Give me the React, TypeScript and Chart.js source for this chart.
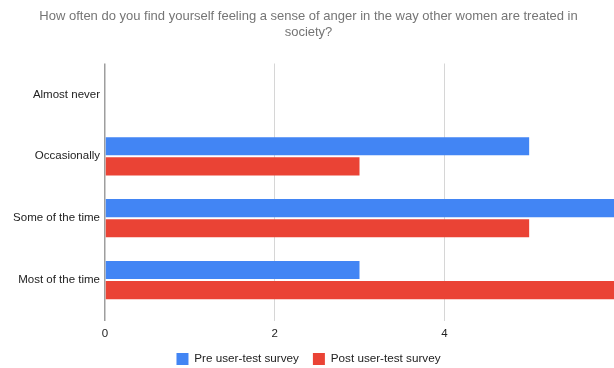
import React, { useEffect, useRef } from "react";
import { Chart, registerables } from "chart.js";

Chart.register(...registerables);

const titleLines = [
  "How often do you find yourself feeling a sense of anger in the way other women are treated in",
  "society?",
];
const categories = ["Almost never", "Occasionally", "Some of the time", "Most of the time"];
const preSurvey = [0, 5, 6, 3];
const postSurvey = [0, 3, 5, 6];
const xTicks = [0, 2, 4, 6];

const FONT = "Arial, 'Liberation Sans', sans-serif";

export default function App() {
  const canvasRef = useRef<HTMLCanvasElement | null>(null);

  useEffect(() => {
    document.body.style.margin = "0";
    const canvas = canvasRef.current;
    if (!canvas) return;
    const chart = new Chart(canvas, {
      type: "bar",
      data: {
        labels: categories,
        datasets: [
          {
            label: "Pre user-test survey",
            data: preSurvey,
            backgroundColor: "#4285F4",
            categoryPercentage: 0.65,
            barPercentage: 0.9,
          },
          {
            label: "Post user-test survey",
            data: postSurvey,
            backgroundColor: "#EA4335",
            categoryPercentage: 0.65,
            barPercentage: 0.9,
          },
        ],
      },
      options: {
        indexAxis: "y",
        animation: false,
        responsive: false,
        maintainAspectRatio: false,
        layout: { padding: { left: 0, right: -3, top: 0, bottom: -7 } },
        plugins: {
          title: {
            display: true,
            text: titleLines,
            color: "#757575",
            font: { family: FONT, size: 13, weight: "normal", lineHeight: 1.25 },
            padding: { top: 8, bottom: 23 },
          },
          legend: {
            position: "bottom",
            labels: {
              boxWidth: 12,
              boxHeight: 12,
              padding: 14,
              color: "#222222",
              font: { family: FONT, size: 11.7 },
            },
          },
          tooltip: { enabled: false },
        },
        scales: {
          x: {
            min: 0,
            max: 6,
            afterBuildTicks: (axis: any) => {
              axis.ticks = xTicks.map((v) => ({ value: v }));
            },
            afterFit: (axis: any) => {
              axis.height = 28;
              axis.paddingRight = -3;
            },
            ticks: {
              color: "#222222",
              font: { family: FONT, size: 11.5 },
              padding: 6,
              callback: (v: any) => (Number(v) === 6 ? "" : String(v)),
            },
            grid: {
              drawTicks: true,
              tickLength: 10,
              color: (ctx: any) =>
                ctx.tick && ctx.tick.value === 0
                  ? "#9e9e9e"
                  : ctx.tick && ctx.tick.value === 6
                  ? "rgba(0,0,0,0)"
                  : "#d6d6d6",
              lineWidth: (ctx: any) => (ctx.tick && ctx.tick.value === 0 ? 1.5 : 1),
            },
            border: { display: false },
          },
          y: {
            afterFit: (axis: any) => {
              axis.width = 105;
            },
            ticks: {
              color: "#222222",
              font: { family: FONT, size: 11.5 },
              padding: 5,
            },
            grid: { display: false, drawTicks: false },
            border: { display: false },
          },
        },
      },
    });
    return () => chart.destroy();
  }, []);

  return (
    <div style={{ width: 614, height: 368, background: "#ffffff", overflow: "hidden" }}>
      <canvas ref={canvasRef} width={614} height={368} style={{ display: "block" }} />
    </div>
  );
}
